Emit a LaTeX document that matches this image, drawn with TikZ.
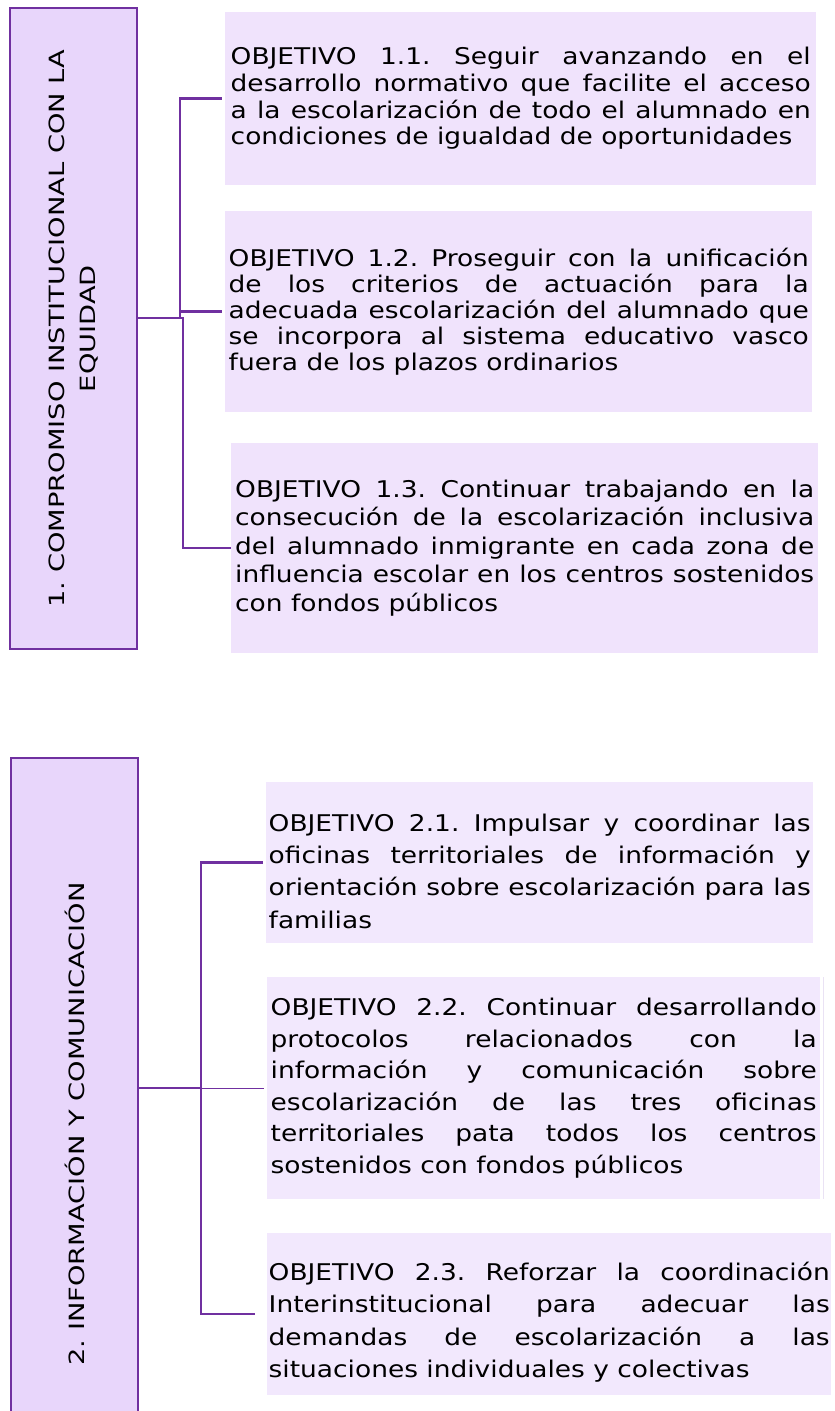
\documentclass[tikz,border=0pt]{standalone}
\usepackage{fontspec}
\setmainfont{DejaVu Sans}
\newfontfamily\objfont[FakeStretch=1.15]{DejaVu Sans}
\newfontfamily\axisfont[FakeStretch=1.3]{DejaVu Sans}
\usetikzlibrary{positioning}
\definecolor{esPurple}{RGB}{112,48,160}
\definecolor{esAxis}{RGB}{232,214,251}
\definecolor{esObj}{RGB}{240,227,252}
\definecolor{esObjB}{RGB}{242,232,253}
\definecolor{esEdge}{RGB}{234,226,244}
\tolerance=10000
\hyphenpenalty=10000
\frenchspacing

\tikzset{
  axisbox/.style={draw=esPurple, line width=2.8pt, fill=esAxis, rotate=90, align=center,
    inner sep=0pt, font=\axisfont\fontsize{21}{31}\selectfont},
  objbox/.style={fill=esObj, inner sep=0pt, align=justify, anchor=west,
    font=\objfont\fontsize{23}{26.7}\selectfont},
  objboxB/.style={objbox, fill=esObjB, font=\objfont\fontsize{23}{32.3}\selectfont},
  link/.style={draw=esPurple, line width=2.8pt},
  thinlink/.style={draw=esPurple, line width=1pt}
}

\begin{document}
\begin{tikzpicture}[x=1pt, y=-1pt]
  \useasboundingbox (0,0) rectangle (835,1411);
  \clip (0,0) rectangle (835,1411);

  % Axis 1
  \node[axisbox, minimum width=641pt, minimum height=127pt] (ax1) at (73.5,328.5)
    {1. COMPROMISO INSTITUCIONAL CON LA\\EQUIDAD};

  % Objectives of axis 1
  \node[objbox, minimum width=591pt, text width=580pt, minimum height=173pt] (o11) at (225,98.5)
    {OBJETIVO 1.1. Seguir avanzando en el\linebreak
     desarrollo normativo que facilite el acceso\linebreak
     a la escolarización de todo el alumnado en\linebreak
     condiciones de igualdad de oportunidades};
  \node[objbox, minimum width=587pt, text width=580pt, minimum height=201pt,
    font=\objfont\fontsize{23}{26}\selectfont] (o12) at (225,311.5)
    {OBJETIVO 1.2. Proseguir con la unificación\linebreak
     de los criterios de actuación para la\linebreak
     adecuada escolarización del alumnado que\linebreak
     se incorpora al sistema educativo vasco\linebreak
     fuera de los plazos ordinarios};
  \node[objbox, minimum width=587pt, text width=579pt, minimum height=210pt,
    font=\objfont\fontsize{23}{28.5}\selectfont] (o13) at (231,548)
    {OBJETIVO 1.3. Continuar trabajando en la\linebreak
     consecución de la escolarización inclusiva\linebreak
     del alumnado inmigrante en cada zona de\linebreak
     influencia escolar en los centros sostenidos\linebreak
     con fondos públicos};

  % Connectors of axis 1
  \coordinate (j1) at (180,318);
  \coordinate (j1b) at (183,318);
  \draw[link] (ax1.south |- j1) -- (j1b) |- (o13.west);
  \draw[link, shorten >=3pt] (j1) |- (o11.west);
  \draw[link, shorten >=3pt] (j1) |- (o12.west);

  % Axis 2
  \node[axisbox, minimum width=732pt, minimum height=127pt] (ax2) at (74.5,1124)
    {2. INFORMACIÓN Y COMUNICACIÓN};

  % Objectives of axis 2
  \node[objboxB, minimum width=547pt, text width=542pt, minimum height=161pt] (o21) at (266,862.5)
    {\rule{0pt}{35pt}OBJETIVO 2.1. Impulsar y coordinar las\linebreak
     oficinas territoriales de información y\linebreak
     orientación sobre escolarización para las\linebreak
     familias};
  \node[objboxB, minimum width=553pt, text width=546pt, minimum height=222pt,
    font=\objfont\fontsize{23}{31.5}\selectfont] (o22) at (267,1088)
    {OBJETIVO 2.2. Continuar desarrollando\linebreak
     protocolos relacionados con la\linebreak
     información y comunicación sobre\linebreak
     escolarización de las tres oficinas\linebreak
     territoriales pata todos los centros\linebreak
     sostenidos con fondos públicos};
  \draw[esEdge, line width=1pt] ([xshift=3pt]o22.north east) -- ([xshift=3pt]o22.south east);
  \node[objboxB, minimum width=564pt, text width=561pt, minimum height=162pt] (o23) at (267,1314)
    {\rule{0pt}{35pt}OBJETIVO 2.3. Reforzar la coordinación\linebreak
     Interinstitucional para adecuar las\linebreak
     demandas de escolarización a las\linebreak
     situaciones individuales y colectivas};

  % Connectors of axis 2
  \coordinate (j2) at (201,1088);
  \draw[link] (ax2.south |- o22.west) -- (j2);
  \draw[link, shorten >=3pt] (j2) |- (o21.west);
  \draw[link, shorten >=12pt] (j2) |- (o23.west);
  \draw[thinlink, shorten >=3pt] (j2) -- (o22.west);
\end{tikzpicture}
\end{document}
